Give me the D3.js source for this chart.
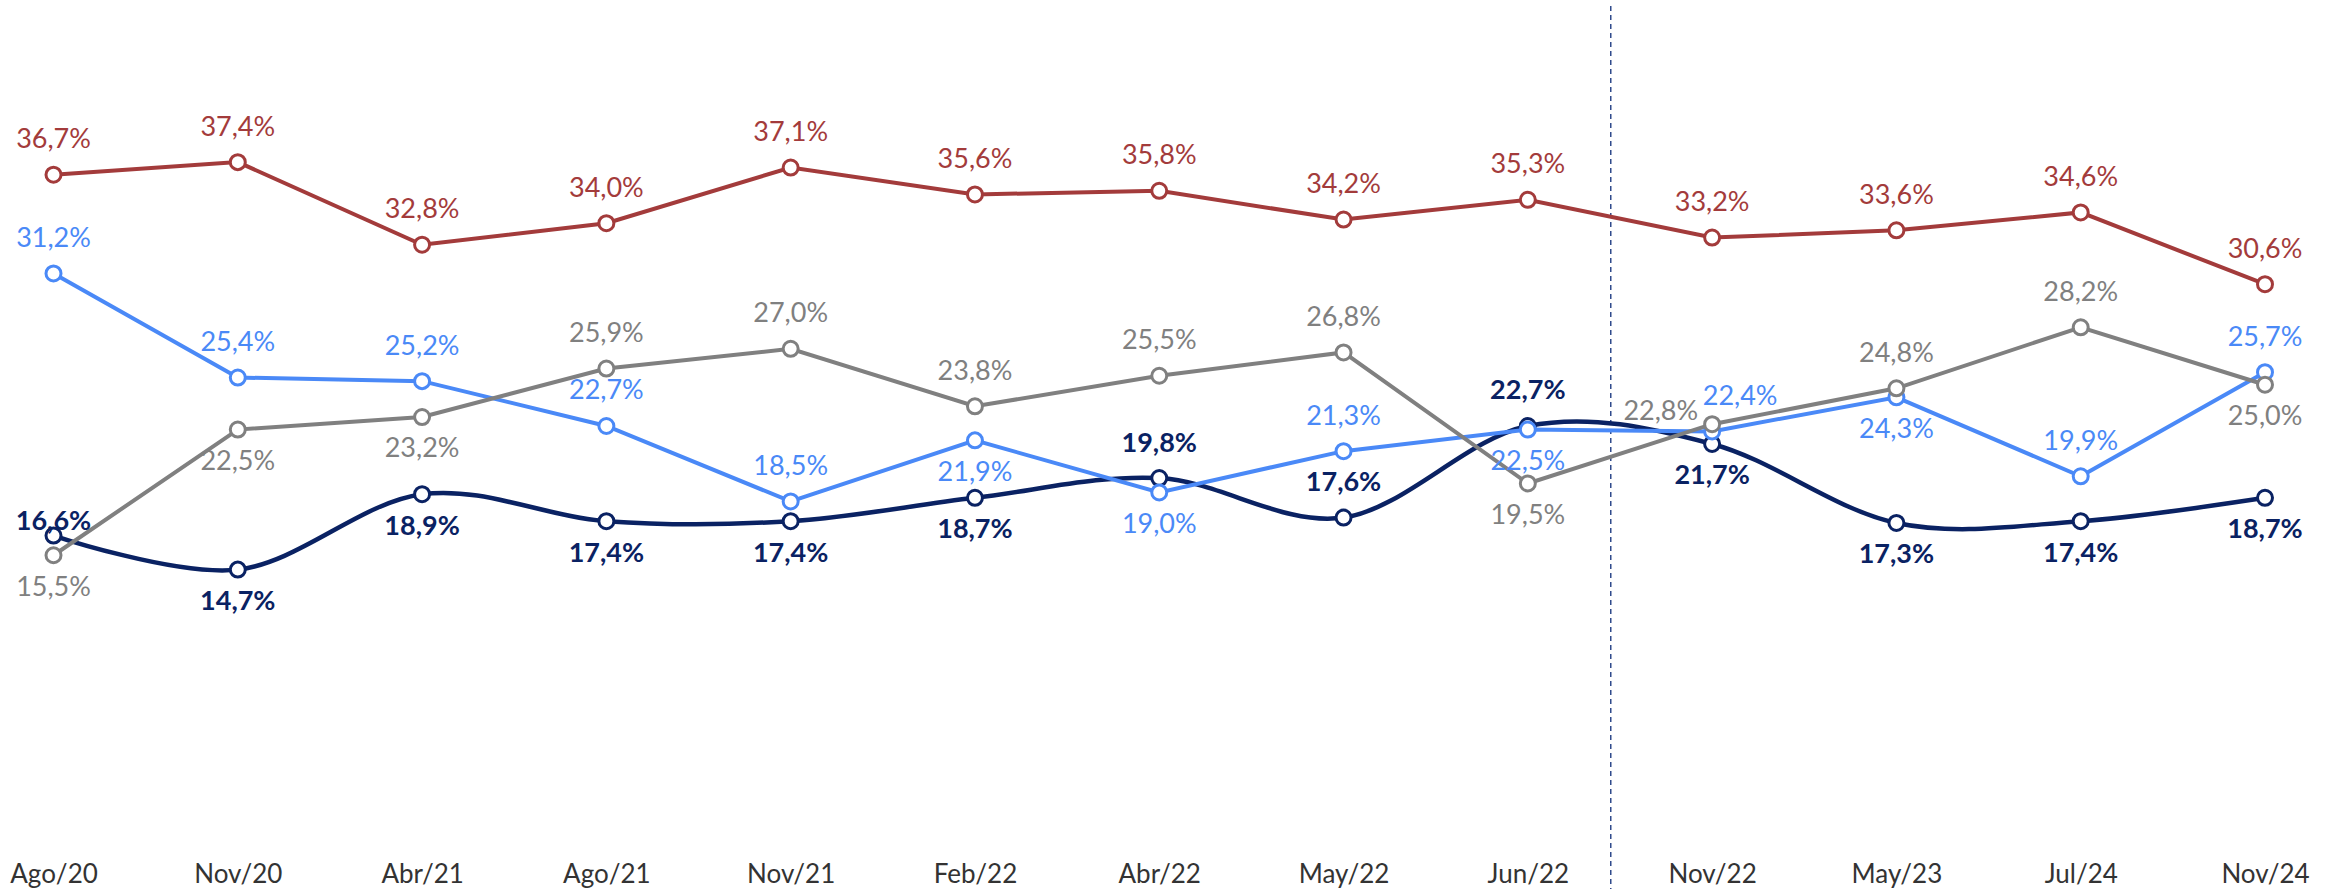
<!DOCTYPE html>
<html>
<head>
<meta charset="utf-8">
<script src="https://cdn.jsdelivr.net/npm/d3@7"></script>
<style>
  html, body { margin: 0; padding: 0; background: #fff; }
  svg { display: block; font-family: Lato, "Noto Sans", sans-serif; }
</style>
</head>
<body>
<svg id="chart"></svg>
<script>
const categories = ['Ago/20', 'Nov/20', 'Abr/21', 'Ago/21', 'Nov/21', 'Feb/22', 'Abr/22',
                    'May/22', 'Jun/22', 'Nov/22', 'May/23', 'Jul/24', 'Nov/24'];

const redValues  = [36.7, 37.4, 32.8, 34.0, 37.1, 35.6, 35.8, 34.2, 35.3, 33.2, 33.6, 34.6, 30.6];
const blueValues = [31.2, 25.4, 25.2, 22.7, 18.5, 21.9, 19.0, 21.3, 22.5, 22.4, 24.3, 19.9, 25.7];
const grayValues = [15.5, 22.5, 23.2, 25.9, 27.0, 23.8, 25.5, 26.8, 19.5, 22.8, 24.8, 28.2, 25.0];
const navyValues = [16.6, 14.7, 18.9, 17.4, 17.4, 18.7, 19.8, 17.6, 22.7, 21.7, 17.3, 17.4, 18.7];

// label placement per point: a = above, b = below, l = left, ar = above right, as = just above
const redPlace  = ['a', 'a', 'a', 'a', 'a', 'a', 'a', 'a', 'a', 'a', 'a', 'a', 'a'];
const bluePlace = ['a', 'a', 'a', 'a', 'a', 'b', 'b', 'a', 'b', 'ar', 'b', 'a', 'a'];
const grayPlace = ['b', 'b', 'b', 'a', 'a', 'a', 'a', 'a', 'b', 'l', 'a', 'a', 'b'];
const navyPlace = ['as', 'b', 'b', 'b', 'b', 'b', 'a', 'a', 'a', 'b', 'b', 'b', 'b'];

const W = 2338, H = 889;
const svg = d3.select('#chart').attr('width', W).attr('height', H);

const x = d3.scalePoint().domain(categories).range([53.5, 2265]);
const y = d3.scaleLinear().domain([0, 45]).range([833.5, 25.7]);

// divider between the two survey periods
const divX = x('Jun/22') + (x('Nov/22') - x('Jun/22')) * 0.45;
svg.append('line')
    .attr('x1', divX).attr('x2', divX)
    .attr('y1', 6).attr('y2', H)
    .style('stroke', '#2F4A8C')
    .style('stroke-width', 1.5)
    .style('stroke-dasharray', '5,4');

// x axis, labels only
const xAxis = svg.append('g')
    .attr('transform', `translate(0, ${y(0)})`)
    .call(d3.axisBottom(x).tickSize(0).tickPadding(0));
xAxis.select('.domain').remove();
xAxis.selectAll('text')
    .attr('dy', null)
    .attr('y', 49)
    .style('font-family', 'Lato, "Noto Sans", sans-serif')
    .style('font-size', '26px')
    .style('fill', '#333');

const series = [
    { values: navyValues, place: navyPlace, color: '#0A2263', curve: d3.curveCardinal.tension(0), width: 4.5, weight: 'bold' },
    { values: blueValues, place: bluePlace, color: '#4A89F7', curve: d3.curveLinear, width: 4, weight: 'normal' },
    { values: grayValues, place: grayPlace, color: '#808080', curve: d3.curveLinear, width: 4, weight: 'normal' },
    { values: redValues,  place: redPlace,  color: '#A33B3B', curve: d3.curveLinear, width: 4, weight: 'normal' }
];

series.forEach(s => {
    const line = d3.line()
        .x((d, i) => x(categories[i]))
        .y(d => y(d))
        .curve(s.curve);

    svg.append('path')
        .datum(s.values)
        .attr('d', line)
        .style('fill', 'none')
        .style('stroke', s.color)
        .style('stroke-width', s.width);

    svg.append('g').selectAll('circle')
        .data(s.values)
        .join('circle')
        .attr('cx', (d, i) => x(categories[i]))
        .attr('cy', d => y(d))
        .attr('r', 7.5)
        .style('fill', '#fff')
        .style('stroke', s.color)
        .style('stroke-width', 3);
});

const fmt = v => v.toFixed(1).replace('.', ',') + '%';

series.forEach(s => {
    svg.append('g').selectAll('text')
        .data(s.values)
        .join('text')
        .attr('x', (d, i) => {
            const p = s.place[i];
            if (p === 'l') return x(categories[i]) - 14;
            if (p === 'ar') return x(categories[i]) + 28;
            return x(categories[i]);
        })
        .attr('y', (d, i) => {
            const p = s.place[i];
            if (p === 'b') return y(d) + 31;
            if (p === 'l') return y(d) - 14;
            if (p === 'as') return y(d) - 15;
            return y(d) - 36;
        })
        .attr('dy', '0.35em')
        .attr('text-anchor', (d, i) => s.place[i] === 'l' ? 'end' : 'middle')
        .style('font-size', '27px')
        .style('font-weight', s.weight)
        .style('fill', s.color)
        .text(d => fmt(d));
});
</script>
</body>
</html>
